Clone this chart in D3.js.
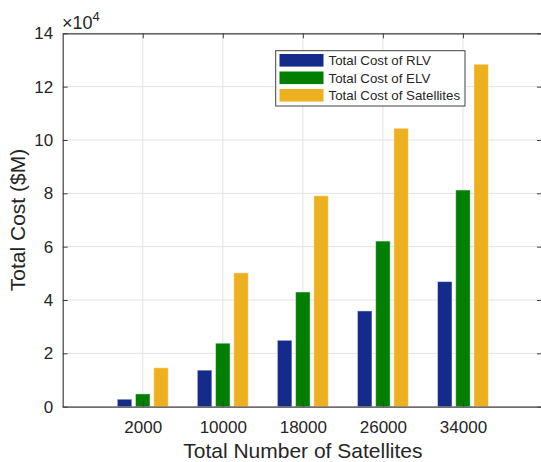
<!DOCTYPE html>
<html>
<head>
<meta charset="utf-8">
<script src="https://cdn.jsdelivr.net/npm/d3@7"></script>
<style>
  html, body { margin: 0; padding: 0; background: #fff; }
  svg { display: block; font-family: "Liberation Sans", Arial, Helvetica, sans-serif; }
</style>
</head>
<body>
<svg id="chart" width="541" height="462"></svg>
<script>
const categories = [2000, 10000, 18000, 26000, 34000];
const seriesNames = ["Total Cost of RLV", "Total Cost of ELV", "Total Cost of Satellites"];
const rlv = [2800, 13700, 24900, 35900, 46900];
const elv = [4800, 23800, 43000, 62100, 81250];
const sat = [14600, 50200, 79100, 104400, 128400];
const colors = ["#142b8c", "#007f00", "#edb120"];
const yTicks = [0, 20000, 40000, 60000, 80000, 100000, 120000, 140000];
const yTickLabels = ["0", "2", "4", "6", "8", "10", "12", "14"];

const series = [rlv, elv, sat];
const svg = d3.select("#chart");
const L = 62.7, R = 543, T = 33.3, B = 406.7;

const x = d3.scaleLinear().domain([-6000, 42000]).range([L, R]);
const y = d3.scaleLinear().domain([0, 140000]).range([B, T]);
const barW = 1450, barOff = 1820;

// grid
const grid = svg.append("g");
categories.forEach(c => grid.append("line")
  .attr("x1", x(c)).attr("x2", x(c)).attr("y1", T).attr("y2", B)
  .attr("stroke", "#e3e3e3").attr("stroke-width", 1));
yTicks.forEach(t => grid.append("line")
  .attr("x1", L).attr("x2", R).attr("y1", y(t)).attr("y2", y(t))
  .attr("stroke", "#e3e3e3").attr("stroke-width", 1));

// bars
series.forEach((vals, si) => {
  svg.append("g").selectAll("rect").data(vals).join("rect")
    .attr("x", (d, i) => x(categories[i] + (si - 1) * barOff - barW / 2))
    .attr("width", x(barW) - x(0))
    .attr("y", d => y(d))
    .attr("height", d => y(0) - y(d))
    .attr("fill", colors[si])
    .attr("stroke", "#ffffff").attr("stroke-opacity", 0.45).attr("stroke-width", 1);
});

// axes
const axisColor = "#404040";
const xAxis = d3.axisBottom(x).tickValues(categories).tickFormat(d3.format("d")).tickSizeInner(-5).tickSizeOuter(0).tickPadding(14);
const gx = svg.append("g").attr("transform", `translate(0,${B})`).call(xAxis);
const yAxis = d3.axisLeft(y).tickValues(yTicks).tickFormat((d, i) => yTickLabels[i]).tickSizeInner(-5).tickSizeOuter(0).tickPadding(9.5);
const gy = svg.append("g").attr("transform", `translate(${L},0)`).call(yAxis);
const xTop = d3.axisTop(x).tickValues(categories).tickFormat("").tickSizeInner(-5).tickSizeOuter(0);
const gxt = svg.append("g").attr("transform", `translate(0,${T})`).call(xTop);
const yRight = d3.axisRight(y).tickValues(yTicks).tickFormat("").tickSizeInner(-5).tickSizeOuter(0);
const gyr = svg.append("g").attr("transform", `translate(${R - 1},0)`).call(yRight);
[gx, gy, gxt, gyr].forEach(g => {
  g.select(".domain").attr("stroke", axisColor).attr("stroke-width", 1.2);
  g.selectAll(".tick line").attr("stroke", axisColor);
  g.selectAll(".tick text").attr("fill", "#262626").attr("font-size", 17).attr("font-family", "Liberation Sans, Arial, sans-serif");
});
gx.selectAll(".tick text").attr("dy", "0.71em");

// exponent
const ex = svg.append("text").attr("x", 62).attr("y", 28.5).attr("fill", "#262626")
  .attr("font-size", 18);
ex.append("tspan").text("\u00d710");
ex.append("tspan").attr("font-size", 13).attr("dy", -8).text("4");

// axis labels
svg.append("text").attr("x", (L + R) / 2).attr("y", 458).attr("text-anchor", "middle")
  .attr("font-size", 21).attr("fill", "#262626").text("Total Number of Satellites");
svg.append("text").attr("transform", `translate(25,${(T + B) / 2}) rotate(-90)`)
  .attr("text-anchor", "middle").attr("font-size", 21).attr("fill", "#262626").text("Total Cost ($M)");

// legend
const lg = svg.append("g");
lg.append("rect").attr("x", 275.7).attr("y", 50.7).attr("width", 189.3).attr("height", 55.3)
  .attr("fill", "#fff").attr("stroke", "#404040").attr("stroke-width", 1);
seriesNames.forEach((n, i) => {
  const cy = 60.3 + i * 17.5;
  lg.append("rect").attr("x", 279.5).attr("y", cy - 6.3).attr("width", 44).attr("height", 12.6).attr("fill", colors[i]);
  lg.append("text").attr("x", 328.5).attr("y", cy).attr("dy", "0.36em").attr("font-size", 13.3)
    .attr("fill", "#262626").text(n);
});
</script>
</body>
</html>
